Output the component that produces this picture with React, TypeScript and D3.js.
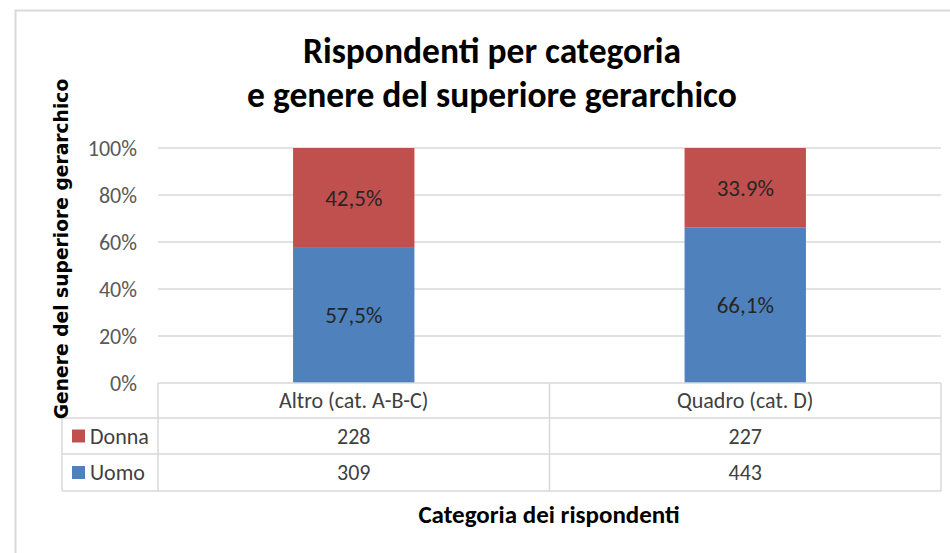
import React, { useEffect, useRef } from 'react';
import * as d3 from 'd3';

const categories = ['Altro (cat. A-B-C)', 'Quadro (cat. D)'];
const seriesNames = ['Uomo', 'Donna'];
const uomoPct = [57.5, 66.1];
const donnaPct = [42.5, 33.9];
const uomoLabels = ['57,5%', '66,1%'];
const donnaLabels = ['42,5%', '33.9%'];
const uomoCounts = [309, 443];
const donnaCounts = [228, 227];
const yTicks = [0, 20, 40, 60, 80, 100];

const FONT = "Carlito, Calibri, 'Liberation Sans Narrow', 'Open Sans', sans-serif";
const colors = { Uomo: '#4F81BD', Donna: '#C0504D' };

function App() {
  const svgRef = useRef(null);

  useEffect(() => {
    const width = 950;
    const height = 553;
    const left = 158, right = 941, top = 148, bottom = 383;

    const svg = d3.select(svgRef.current);
    svg.selectAll('*').remove();
    svg.attr('width', width).attr('height', height);

    svg.append('rect')
      .attr('x', 15.5).attr('y', 10.5)
      .attr('width', 960).attr('height', 600)
      .attr('fill', '#fff')
      .attr('stroke', '#D9D9D9').attr('stroke-width', 2);

    const x = d3.scaleBand().domain(categories).range([left, right]);
    const y = d3.scaleLinear().domain([0, 100]).range([bottom, top]);

    // gridlines
    svg.append('g').selectAll('line')
      .data(yTicks.filter((t) => t > 0))
      .enter().append('line')
      .attr('x1', left).attr('x2', right)
      .attr('y1', (d) => y(d)).attr('y2', (d) => y(d))
      .attr('stroke', '#D9D9D9').attr('stroke-width', 1.5);

    // y axis labels
    const yAxis = d3.axisLeft(y).tickValues(yTicks).tickSize(0).tickPadding(21)
      .tickFormat((d) => `${d}%`);
    const ya = svg.append('g').attr('transform', `translate(${left},0)`).call(yAxis);
    ya.select('.domain').remove();
    ya.selectAll('text')
      .attr('font-family', FONT).attr('font-size', 22).attr('fill', '#595959');

    // stacked bars
    const rows = categories.map((c, i) => ({ cat: c, Uomo: uomoPct[i], Donna: donnaPct[i] }));
    const stack = d3.stack().keys(seriesNames);
    const layers = stack(rows);
    const labels = { Uomo: uomoLabels, Donna: donnaLabels };
    const barW = x.bandwidth() * 0.31;

    layers.forEach((layer) => {
      const g = svg.append('g');
      g.selectAll('rect')
        .data(layer)
        .enter().append('rect')
        .attr('x', (d) => x(d.data.cat) + x.bandwidth() / 2 - barW / 2)
        .attr('width', barW)
        .attr('y', (d) => y(d[1]))
        .attr('height', (d) => y(d[0]) - y(d[1]))
        .attr('fill', colors[layer.key]);
      g.selectAll('text')
        .data(layer)
        .enter().append('text')
        .attr('x', (d) => x(d.data.cat) + x.bandwidth() / 2)
        .attr('y', (d) => (y(d[0]) + y(d[1])) / 2)
        .attr('dy', '0.35em')
        .attr('text-anchor', 'middle')
        .attr('font-family', FONT).attr('font-size', 23)
        .attr('fill', '#262626')
        .text((d, i) => labels[layer.key][i]);
    });

    // data table
    const rowY = [383, 418, 454, 491];
    const legendLeft = 62;
    const grid = svg.append('g').attr('stroke', '#D9D9D9').attr('stroke-width', 1.5);
    [418, 454, 491].forEach((yy) => {
      grid.append('line').attr('x1', legendLeft).attr('x2', right).attr('y1', yy).attr('y2', yy);
    });
    grid.append('line').attr('x1', left).attr('x2', right).attr('y1', bottom).attr('y2', bottom);
    grid.append('line').attr('x1', legendLeft).attr('x2', legendLeft).attr('y1', 418).attr('y2', 491);
    [left, x(categories[1]), right].forEach((xx) => {
      grid.append('line').attr('x1', xx).attr('x2', xx).attr('y1', 383).attr('y2', 491);
    });

    svg.append('g').selectAll('text')
      .data(categories)
      .enter().append('text')
      .attr('x', (d) => x(d) + x.bandwidth() / 2)
      .attr('y', (rowY[0] + rowY[1]) / 2)
      .attr('dy', '0.35em')
      .attr('text-anchor', 'middle')
      .attr('font-family', FONT).attr('font-size', 22).attr('fill', '#404040')
      .text((d) => d);

    const tableRows = [
      { name: 'Donna', values: donnaCounts },
      { name: 'Uomo', values: uomoCounts },
    ];
    tableRows.forEach((r, ri) => {
      const cy = (rowY[ri + 1] + rowY[ri + 2]) / 2;
      svg.append('rect')
        .attr('x', 72).attr('y', cy - 6.5)
        .attr('width', 13).attr('height', 13)
        .attr('fill', colors[r.name]);
      svg.append('text')
        .attr('x', 90).attr('y', cy).attr('dy', '0.35em')
        .attr('font-family', FONT).attr('font-size', 22).attr('fill', '#404040')
        .text(r.name);
      svg.append('g').selectAll('text')
        .data(r.values)
        .enter().append('text')
        .attr('x', (d, i) => x(categories[i]) + x.bandwidth() / 2)
        .attr('y', cy).attr('dy', '0.35em')
        .attr('text-anchor', 'middle')
        .attr('font-family', FONT).attr('font-size', 22).attr('fill', '#404040')
        .text((d) => d);
    });

    // titles
    const title = svg.append('text')
      .attr('text-anchor', 'middle')
      .attr('font-family', FONT).attr('font-size', 35.5).attr('font-weight', 'bold')
      .attr('fill', '#000');
    title.append('tspan').attr('x', 492).attr('y', 63).text('Rispondenti per categoria');
    title.append('tspan').attr('x', 492).attr('y', 107).text('e genere del superiore gerarchico');

    svg.append('text')
      .attr('x', 549).attr('y', 523)
      .attr('text-anchor', 'middle')
      .attr('font-family', FONT).attr('font-size', 25).attr('font-weight', 'bold')
      .attr('fill', '#000')
      .text('Categoria dei rispondenti');

    svg.append('text')
      .attr('transform', 'translate(68,249) rotate(-90)')
      .attr('text-anchor', 'middle')
      .attr('font-family', "'DejaVu Sans', Verdana, sans-serif").attr('font-size', 18.7).attr('font-weight', 'bold')
      .attr('fill', '#000')
      .text('Genere del superiore gerarchico');
  }, []);

  return (
    <svg ref={svgRef} style={{ position: 'absolute', left: 0, top: 0 }}></svg>
  );
}

export default App;
